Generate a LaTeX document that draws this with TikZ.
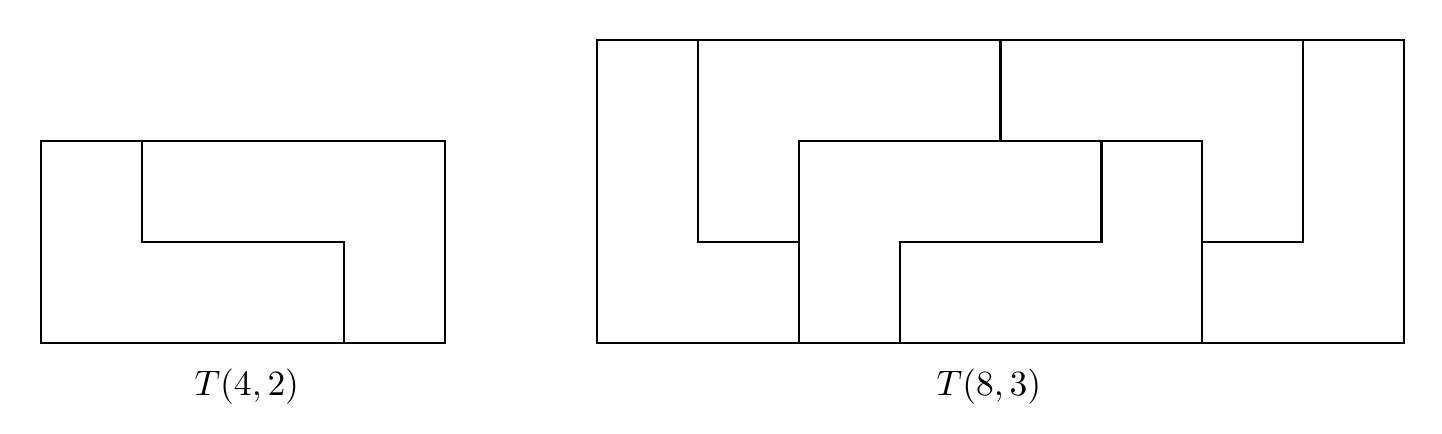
\documentclass[tikz,border=0pt]{standalone}
\begin{document}
\begin{tikzpicture}[x=1cm,y=1cm,tile/.style={line width=0.6pt,line join=miter},lbl/.style={inner sep=0pt}]
\useasboundingbox (-0.406,-0.902) rectangle (13.885,3.396);
% left T(4,2)
\draw[tile] (0,0) rectangle (4,2);
\draw[tile] (1,2) -- (1,1) -- (3,1) -- (3,0);
\node[lbl] (l1) at (2.04,-0.435) {$T(4,2)$};
% right T(8,3)
\begin{scope}[xshift=5.51cm]
\draw[tile] (0,0) rectangle (8,3);
\draw[tile] (1,3) -- (1,1) -- (2,1);
\draw[tile] (4,3) -- (4,2);
\draw[tile] (7,3) -- (7,1) -- (6,1);
\draw[tile] (2,0) -- (2,2) -- (6,2) -- (6,0);
\draw[tile] (5,2) -- (5,1) -- (3,1) -- (3,0);
\node[lbl] (l2) at (3.885,-0.435) {$T(8,3)$};
\end{scope}
\end{tikzpicture}
\end{document}
